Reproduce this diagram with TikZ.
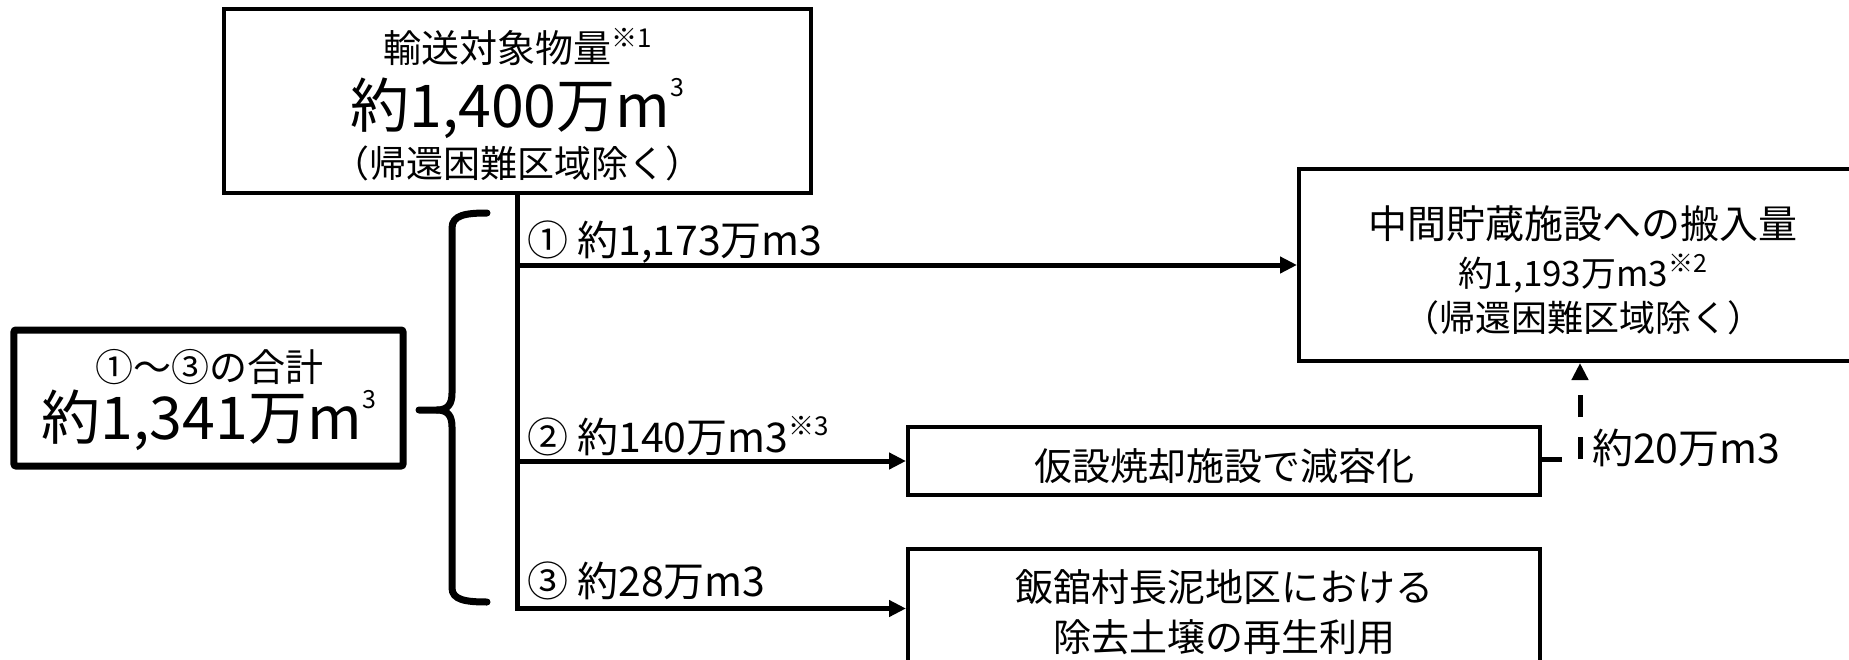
\documentclass[tikz,border=0pt]{standalone}
\usepackage{fontspec}
\setmainfont{Noto Sans CJK JP}
\usetikzlibrary{arrows.meta}
\newcommand\fsz[1]{\fontsize{#1bp}{#1bp}\selectfont}
\newcommand\cubic[1]{\kern0.01em\raisebox{0.52em}{\fontsize{#1bp}{#1bp}\selectfont 3}}
\newcommand\nota[2]{\raisebox{0.40em}{\fontsize{#1bp}{#1bp}\selectfont ※#2}}
\begin{document}
\begin{tikzpicture}[x=1bp,y=-1bp,
  boxn/.style={draw, line width=4bp, inner sep=0pt, fill=white},
  txt/.style={inner sep=0pt, anchor=center},
  lbl/.style={inner sep=0pt, anchor=west},
  flow/.style={line width=5bp, -{Triangle[length=17bp,width=16bp]}},
  plain/.style={line width=5bp},
  dflow/.style={line width=5bp, dash pattern=on 22bp off 20bp, -{Triangle[length=17bp,width=16bp]}},
  bracestyle/.style={line width=7bp, line cap=round, line join=round}]
\useasboundingbox (0,0) rectangle (1849,660);

% top box
\node[boxn, minimum width=587bp, minimum height=184bp] (top) at (517.5,101) {};
\node[txt] (t1) at (517.5,47) {\fsz{38}輸送対象物量\nota{26}{1}};
\node[txt] (t2) at (517.5,108) {\fsz{59}約1,400万m\cubic{25}};
\node[txt] (t3) at (517.5,163) {\fsz{37}（帰還困難区域除く）};

% left box
\node[draw, line width=7bp, rounded corners=2bp, inner sep=0pt, minimum width=389bp, minimum height=136bp] (sum) at (208.5,398) {};
\node[txt] (l1) at (209,367) {\fsz{38}①～③の合計};
\node[txt] (l2) at (209,420) {\fsz{59}約1,341万m\cubic{25}};

% brace
\draw[bracestyle] (487,213) .. controls (466,213) and (452,215) .. (452,228)
  -- (452,393) .. controls (452,404) and (448,410) .. (437,410) -- (419,410);
\draw[bracestyle] (437,410) .. controls (448,410) and (452,416) .. (452,427)
  -- (452,588) .. controls (452,600) and (466,602) .. (487,602);

% right box
\node[boxn, minimum width=561bp, minimum height=192bp] (rb) at (1579.5,265) {};
\node[txt] (r1) at (1583,224) {\fsz{39}中間貯蔵施設への搬入量};
\node[txt] (r2) at (1583,274) {\fsz{35}約1,193万m3\nota{25}{2}};
\node[txt] (r3) at (1583,318) {\fsz{36}（帰還困難区域除く）};

% middle box
\node[boxn, minimum width=632bp, minimum height=68bp] (mb) at (1224,461) {};
\node[txt] (m1) at (1224,466) {\fsz{38}仮設焼却施設で減容化};

% bottom box
\node[boxn, minimum width=632bp, minimum height=119bp] (bb) at (1224,608.5) {};
\node[txt] (b1) at (1224,587) {\fsz{38}飯舘村長泥地区における};
\node[txt] (b2) at (1224,637) {\fsz{38}除去土壌の再生利用};

% trunk and arrows
\draw[plain] (top.south) -- (top.south |- bb.west) -- ([xshift=-18bp]bb.west);
\draw[flow] ([xshift=-20bp]bb.west) -- (bb.west);
\draw[flow] (top.south |- rb.west) -- (rb.west);
\draw[flow] (top.south |- mb.west) -- (mb.west);

% labels
\node[lbl] (a1) at (527,242) {\fsz{41}① 約1,173万m3};
\node[lbl] (a2) at (527,436) {\fsz{41}② 約140万m3\nota{26}{3}};
\node[lbl] (a3) at (527,581) {\fsz{41}③ 約28万m3};

% dashed return
\coordinate (s1) at (1562,459);
\coordinate (d1) at (1580,459);
\draw[plain] (mb.east |- s1) -- (s1);
\draw[dflow] (d1) -- (d1 |- rb.south);
\node[lbl] (a4) at (1592,448) {\fsz{41}約20万m3};
\end{tikzpicture}
\end{document}
